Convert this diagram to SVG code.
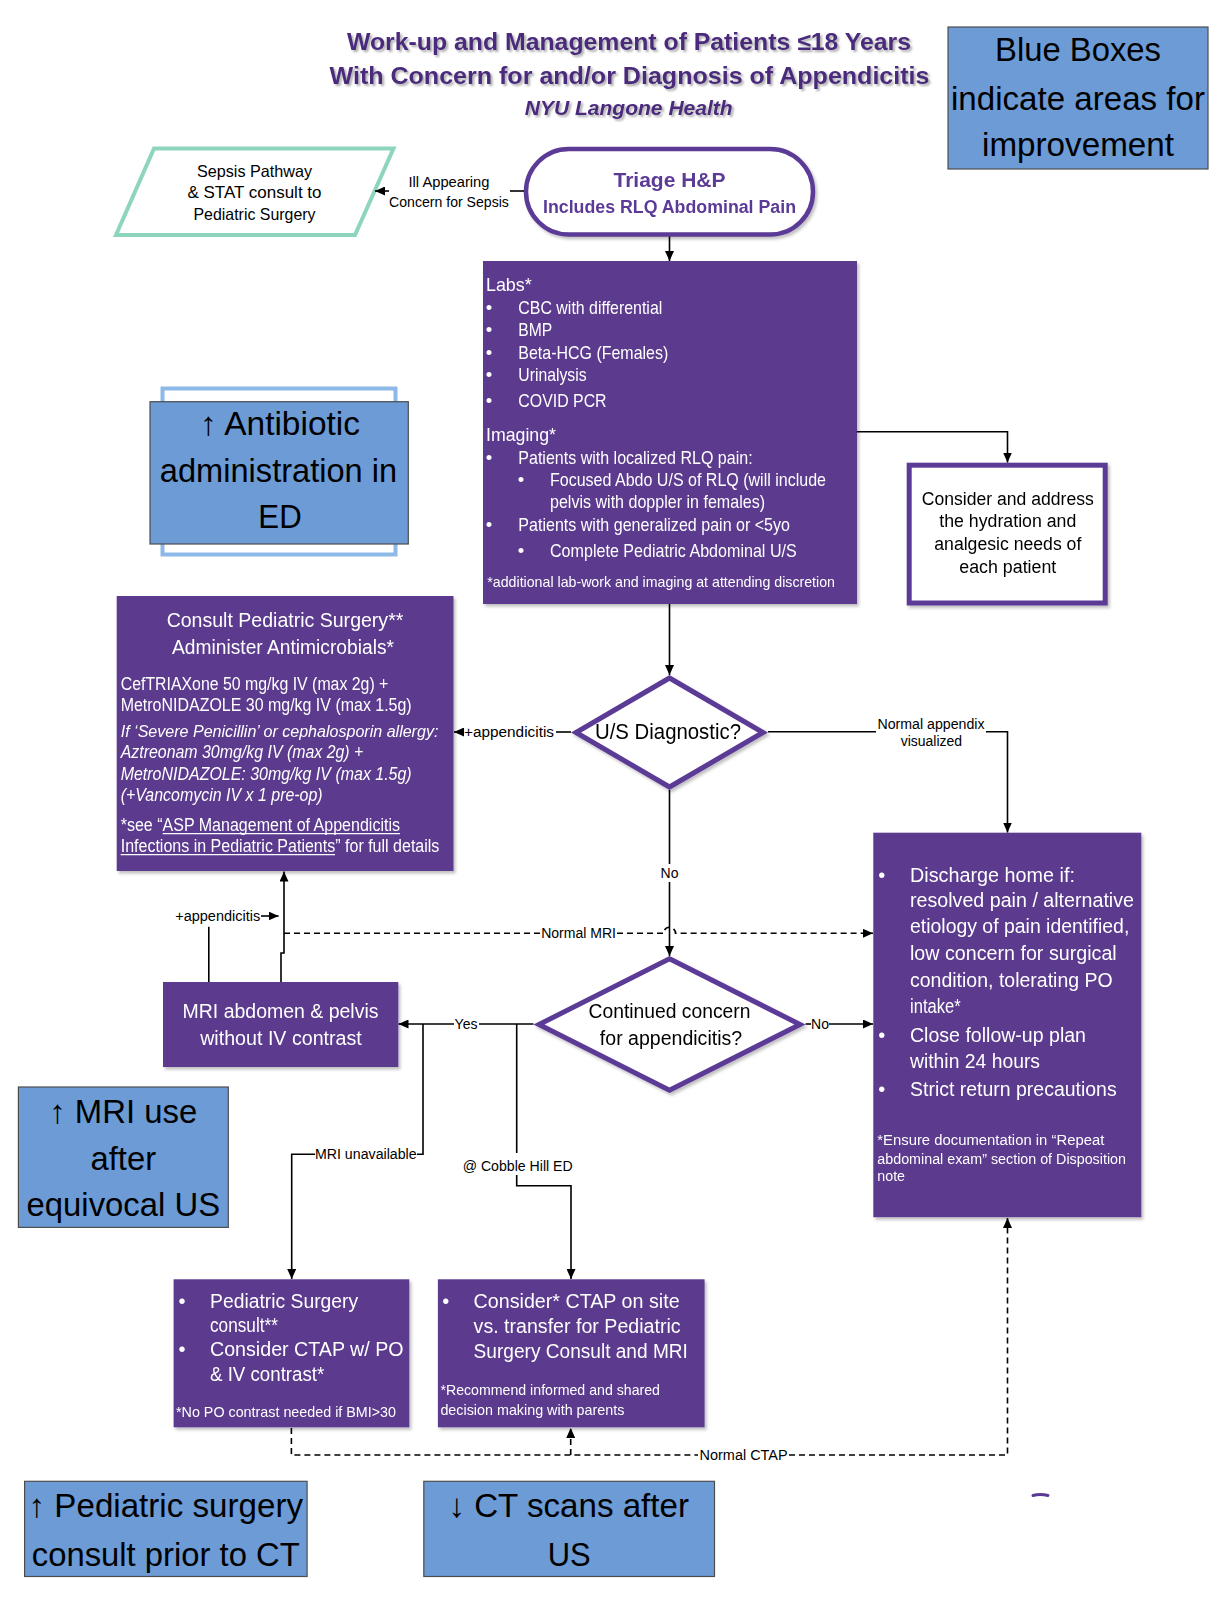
<svg xmlns="http://www.w3.org/2000/svg" width="1210" height="1604" viewBox="0 0 1210 1604">
<defs>
<style>
text{font-family:"Liberation Sans",Arial,Helvetica,sans-serif;}
.ttl{font-weight:bold;fill:#4B2A7E;}
.w{fill:#fff;}
.k{fill:#000;}
.pbox{fill:#5B3A8E;}
.obox{fill:#fff;stroke:#5B3A96;stroke-width:5;}
.blue{fill:#6C9BD6;stroke:#4d4d4d;stroke-width:1.2;}
.bt{font-size:33px;fill:#000;}
.ln{fill:none;stroke:#000;stroke-width:1.6;}
.dl{fill:none;stroke:#000;stroke-width:1.6;stroke-dasharray:6 4;}
.lbl{font-size:14px;fill:#000;}
.it{font-style:italic;}
</style>
<marker id="ah" viewBox="0 0 10 9" refX="10" refY="4.5" markerWidth="10" markerHeight="9" markerUnits="userSpaceOnUse" orient="auto"><path d="M0,0 L10,4.5 L0,9 z" fill="#000"/></marker>
<filter id="sh" x="-5%" y="-5%" width="115%" height="115%"><feDropShadow dx="2" dy="2.5" stdDeviation="1.5" flood-color="#000" flood-opacity="0.25"/></filter>
<filter id="tsh" x="-5%" y="-20%" width="110%" height="150%"><feDropShadow dx="2" dy="2" stdDeviation="1.2" flood-color="#777" flood-opacity="0.6"/></filter>
</defs>
<rect x="0" y="0" width="1210" height="1604" fill="#fff"/>

<g id="title" filter="url(#tsh)">
<text class="ttl" x="629" y="50" font-size="24" text-anchor="middle" textLength="564" lengthAdjust="spacingAndGlyphs">Work-up and Management of Patients ≤18 Years</text>
<text class="ttl" x="629.5" y="84" font-size="24" text-anchor="middle" textLength="600" lengthAdjust="spacingAndGlyphs">With Concern for and/or Diagnosis of Appendicitis</text>
<text class="ttl" x="628.7" y="115" font-size="21" font-style="italic" text-anchor="middle" textLength="208" lengthAdjust="spacingAndGlyphs">NYU Langone Health</text>
</g>

<g id="blue-legend">
<rect class="blue" x="948" y="27" width="260" height="142"/>
<text class="bt" x="1078" y="61.4" font-size="35" text-anchor="middle" textLength="166" lengthAdjust="spacingAndGlyphs">Blue Boxes</text>
<text class="bt" x="1078" y="109.5" font-size="35" text-anchor="middle" textLength="254" lengthAdjust="spacingAndGlyphs">indicate areas for</text>
<text class="bt" x="1078" y="155.6" font-size="35" text-anchor="middle" textLength="192" lengthAdjust="spacingAndGlyphs">improvement</text>
</g>

<g id="sepsis">
<path d="M154,148.5 L393.5,148.5 L355,235 L116,235 Z" fill="#fff" stroke="#8DD5BE" stroke-width="4"/>
<text class="k" x="254.5" y="176.7" font-size="16.5" text-anchor="middle" textLength="115" lengthAdjust="spacingAndGlyphs">Sepsis Pathway</text>
<text class="k" x="254.5" y="198.3" font-size="16.5" text-anchor="middle" textLength="134" lengthAdjust="spacingAndGlyphs">&amp; STAT consult to</text>
<text class="k" x="254.5" y="220" font-size="16.5" text-anchor="middle" textLength="122" lengthAdjust="spacingAndGlyphs">Pediatric Surgery</text>
</g>

<g id="triage" filter="url(#sh)">
<rect x="526" y="149" width="287" height="85.5" rx="42.75" fill="#fff" stroke="#5B3A96" stroke-width="4.5"/>
<text x="669.5" y="186.7" font-size="21" font-weight="bold" fill="#5B3A96" text-anchor="middle" textLength="112" lengthAdjust="spacingAndGlyphs">Triage H&amp;P</text>
<text x="669.5" y="213.3" font-size="17.5" font-weight="bold" fill="#5B3A96" text-anchor="middle" textLength="253" lengthAdjust="spacingAndGlyphs">Includes RLQ Abdominal Pain</text>
</g>

<g id="labs" filter="url(#sh)">
<rect class="pbox" x="483" y="261" width="374" height="343"/>
<g class="w" font-size="18.5">
<text x="486" y="290.7" textLength="45.7" lengthAdjust="spacingAndGlyphs">Labs*</text>
<text x="489" y="314" text-anchor="middle">•</text>
<text x="518.3" y="314" textLength="144" lengthAdjust="spacingAndGlyphs">CBC with differential</text>
<text x="489" y="336" text-anchor="middle">•</text>
<text x="518.3" y="336" textLength="34" lengthAdjust="spacingAndGlyphs">BMP</text>
<text x="489" y="359.3" text-anchor="middle">•</text>
<text x="518.3" y="359.3" textLength="150" lengthAdjust="spacingAndGlyphs">Beta-HCG (Females)</text>
<text x="489" y="380.7" text-anchor="middle">•</text>
<text x="518.3" y="380.7" textLength="68.3" lengthAdjust="spacingAndGlyphs">Urinalysis</text>
<text x="489" y="406.7" text-anchor="middle">•</text>
<text x="518.3" y="406.7" textLength="88.3" lengthAdjust="spacingAndGlyphs">COVID PCR</text>
<text x="486" y="440.7" textLength="70" lengthAdjust="spacingAndGlyphs">Imaging*</text>
<text x="489" y="464" text-anchor="middle">•</text>
<text x="518.3" y="464" textLength="234.3" lengthAdjust="spacingAndGlyphs">Patients with localized RLQ pain:</text>
<text x="521" y="486" text-anchor="middle">•</text>
<text x="550" y="486" textLength="276" lengthAdjust="spacingAndGlyphs">Focused Abdo U/S of RLQ (will include</text>
<text x="550" y="508.3" textLength="215" lengthAdjust="spacingAndGlyphs">pelvis with doppler in females)</text>
<text x="489" y="531" text-anchor="middle">•</text>
<text x="518.3" y="531" textLength="271.7" lengthAdjust="spacingAndGlyphs">Patients with generalized pain or &lt;5yo</text>
<text x="521" y="556.7" text-anchor="middle">•</text>
<text x="550" y="556.7" textLength="246.7" lengthAdjust="spacingAndGlyphs">Complete Pediatric Abdominal U/S</text>
<text x="487.3" y="586.7" font-size="15" textLength="347.7" lengthAdjust="spacingAndGlyphs">*additional lab-work and imaging at attending discretion</text>
</g>
</g>

<g id="hydration" filter="url(#sh)">
<rect class="obox" x="909.2" y="465.2" width="196" height="137.8"/>
<g class="k" font-size="18" text-anchor="middle">
<text x="1007.8" y="505" textLength="172" lengthAdjust="spacingAndGlyphs">Consider and address</text>
<text x="1007.8" y="527.3" textLength="137" lengthAdjust="spacingAndGlyphs">the hydration and</text>
<text x="1007.8" y="550" textLength="147" lengthAdjust="spacingAndGlyphs">analgesic needs of</text>
<text x="1007.8" y="573.3" textLength="97" lengthAdjust="spacingAndGlyphs">each patient</text>
</g>
</g>

<g id="us-diagnostic" filter="url(#sh)">
<path class="obox" d="M669.5,678 L763,732.5 L669.5,787 L576,732.5 Z"/>
<text class="k" x="668" y="739.3" font-size="22" text-anchor="middle" textLength="146" lengthAdjust="spacingAndGlyphs">U/S Diagnostic?</text>
</g>

<g id="consult" filter="url(#sh)">
<rect class="pbox" x="116.7" y="596" width="336.8" height="275"/>
<g class="w">
<text x="285" y="626.7" font-size="19.5" text-anchor="middle" textLength="236.7" lengthAdjust="spacingAndGlyphs">Consult Pediatric Surgery**</text>
<text x="283" y="654" font-size="19.5" text-anchor="middle" textLength="222" lengthAdjust="spacingAndGlyphs">Administer Antimicrobials*</text>
<text x="120.7" y="690" font-size="17.5" textLength="267.7" lengthAdjust="spacingAndGlyphs">CefTRIAXone 50 mg/kg IV (max 2g) +</text>
<text x="120.7" y="710.7" font-size="17.5" textLength="291" lengthAdjust="spacingAndGlyphs">MetroNIDAZOLE 30 mg/kg IV (max 1.5g)</text>
<text class="it" x="120.7" y="736.7" font-size="16" textLength="317.7" lengthAdjust="spacingAndGlyphs">If ‘Severe Penicillin’ or cephalosporin allergy:</text>
<text class="it" x="120.7" y="758.3" font-size="17.5" textLength="242.7" lengthAdjust="spacingAndGlyphs">Aztreonam 30mg/kg IV (max 2g) +</text>
<text class="it" x="120.7" y="780" font-size="17.5" textLength="291" lengthAdjust="spacingAndGlyphs">MetroNIDAZOLE: 30mg/kg IV (max 1.5g)</text>
<text class="it" x="120.7" y="800.7" font-size="17.5" textLength="202" lengthAdjust="spacingAndGlyphs">(+Vancomycin IV x 1 pre-op)</text>
<text x="120.7" y="830.7" font-size="17.5" textLength="279.3" lengthAdjust="spacingAndGlyphs">*see “ASP Management of Appendicitis</text>
<text x="120.7" y="851.7" font-size="17.5" textLength="318.7" lengthAdjust="spacingAndGlyphs">Infections in Pediatric Patients” for full details</text>
</g>
<path d="M162.7,833.6 H400 M120.7,854.6 H335" stroke="#fff" stroke-width="1.2" fill="none"/>
</g>

<g id="continued-concern" filter="url(#sh)">
<path class="obox" d="M669.5,958.8 L800,1024.5 L669.5,1090.2 L539,1024.5 Z"/>
<text class="k" x="669.5" y="1018.3" font-size="19.5" text-anchor="middle" textLength="162" lengthAdjust="spacingAndGlyphs">Continued concern</text>
<text class="k" x="671" y="1045" font-size="19.5" text-anchor="middle" textLength="142.3" lengthAdjust="spacingAndGlyphs">for appendicitis?</text>
</g>

<g id="mri" filter="url(#sh)">
<rect class="pbox" x="163" y="982" width="235.3" height="85"/>
<text class="w" x="280.5" y="1018.3" font-size="19.5" text-anchor="middle" textLength="196" lengthAdjust="spacingAndGlyphs">MRI abdomen &amp; pelvis</text>
<text class="w" x="281" y="1045" font-size="19.5" text-anchor="middle" textLength="161.6" lengthAdjust="spacingAndGlyphs">without IV contrast</text>
</g>

<g id="discharge" filter="url(#sh)">
<rect class="pbox" x="873.3" y="832.7" width="268" height="384.5"/>
<g class="w" font-size="20">
<text x="881.7" y="881.7" text-anchor="middle">•</text>
<text x="910" y="881.7" textLength="165" lengthAdjust="spacingAndGlyphs">Discharge home if:</text>
<text x="910" y="906.7" textLength="224" lengthAdjust="spacingAndGlyphs">resolved pain / alternative</text>
<text x="910" y="932.7" textLength="219.3" lengthAdjust="spacingAndGlyphs">etiology of pain identified,</text>
<text x="910" y="960" textLength="206.7" lengthAdjust="spacingAndGlyphs">low concern for surgical</text>
<text x="910" y="986.7" textLength="202.7" lengthAdjust="spacingAndGlyphs">condition, tolerating PO</text>
<text x="910" y="1013.3" textLength="50.7" lengthAdjust="spacingAndGlyphs">intake*</text>
<text x="881.7" y="1041.7" text-anchor="middle">•</text>
<text x="910" y="1041.7" textLength="176" lengthAdjust="spacingAndGlyphs">Close follow-up plan</text>
<text x="910" y="1068.3" textLength="130" lengthAdjust="spacingAndGlyphs">within 24 hours</text>
<text x="881.7" y="1095.7" text-anchor="middle">•</text>
<text x="910" y="1095.7" textLength="206.7" lengthAdjust="spacingAndGlyphs">Strict return precautions</text>
<text x="877.3" y="1145" font-size="14" textLength="227" lengthAdjust="spacingAndGlyphs">*Ensure documentation in “Repeat</text>
<text x="877.3" y="1164" font-size="14" textLength="248.7" lengthAdjust="spacingAndGlyphs">abdominal exam” section of Disposition</text>
<text x="877.3" y="1180.7" font-size="14" textLength="27.7" lengthAdjust="spacingAndGlyphs">note</text>
</g>
</g>

<g id="ped-surgery-consult" filter="url(#sh)">
<rect class="pbox" x="173.6" y="1279.3" width="235.7" height="148"/>
<g class="w" font-size="20">
<text x="182" y="1308.3" text-anchor="middle">•</text>
<text x="210" y="1308.3" textLength="148.2" lengthAdjust="spacingAndGlyphs">Pediatric Surgery</text>
<text x="210" y="1332" textLength="67.9" lengthAdjust="spacingAndGlyphs">consult**</text>
<text x="182" y="1356" text-anchor="middle">•</text>
<text x="210" y="1356" textLength="193.6" lengthAdjust="spacingAndGlyphs">Consider CTAP w/ PO</text>
<text x="210" y="1381" textLength="114.3" lengthAdjust="spacingAndGlyphs">&amp; IV contrast*</text>
<text x="176" y="1416.7" font-size="14.5" textLength="220" lengthAdjust="spacingAndGlyphs">*No PO contrast needed if BMI&gt;30</text>
</g>
</g>

<g id="ctap-cobble-hill" filter="url(#sh)">
<rect class="pbox" x="437.9" y="1279.3" width="266.7" height="148"/>
<g class="w" font-size="20">
<text x="445.7" y="1308.3" text-anchor="middle">•</text>
<text x="473.6" y="1308.3" textLength="206" lengthAdjust="spacingAndGlyphs">Consider* CTAP on site</text>
<text x="473.6" y="1333.3" textLength="207" lengthAdjust="spacingAndGlyphs">vs. transfer for Pediatric</text>
<text x="473.6" y="1358.3" textLength="214.3" lengthAdjust="spacingAndGlyphs">Surgery Consult and MRI</text>
<text x="440.4" y="1395" font-size="14.5" textLength="219.6" lengthAdjust="spacingAndGlyphs">*Recommend informed and shared</text>
<text x="440.4" y="1415" font-size="14.5" textLength="184" lengthAdjust="spacingAndGlyphs">decision making with parents</text>
</g>
</g>

<g id="blue-antibiotic">
<rect x="162.5" y="388.5" width="233" height="166" fill="#fff" stroke="#8DB9E8" stroke-width="4"/>
<rect class="blue" x="150" y="401.7" width="258.3" height="142.3"/>
<text class="bt" x="280" y="435" font-size="32" text-anchor="middle" textLength="160" lengthAdjust="spacingAndGlyphs">↑ Antibiotic</text>
<text class="bt" x="278.5" y="481.7" font-size="32" text-anchor="middle" textLength="237.3" lengthAdjust="spacingAndGlyphs">administration in</text>
<text class="bt" x="280" y="528.3" font-size="32" text-anchor="middle" textLength="43.4" lengthAdjust="spacingAndGlyphs">ED</text>
</g>

<g id="blue-mri">
<rect class="blue" x="18.4" y="1087" width="209.9" height="140.4"/>
<text class="bt" x="123.3" y="1123" text-anchor="middle" textLength="148" lengthAdjust="spacingAndGlyphs">↑ MRI use</text>
<text class="bt" x="123.3" y="1170" text-anchor="middle" textLength="65.5" lengthAdjust="spacingAndGlyphs">after</text>
<text class="bt" x="123.3" y="1216" text-anchor="middle" textLength="193.5" lengthAdjust="spacingAndGlyphs">equivocal US</text>
</g>

<g id="blue-ped-surgery">
<rect class="blue" x="24.6" y="1481.3" width="282.5" height="95.2"/>
<text class="bt" x="165.8" y="1517" text-anchor="middle" textLength="274.4" lengthAdjust="spacingAndGlyphs">↑ Pediatric surgery</text>
<text class="bt" x="165.8" y="1566" text-anchor="middle" textLength="268" lengthAdjust="spacingAndGlyphs">consult prior to CT</text>
</g>

<g id="blue-ct">
<rect class="blue" x="423.8" y="1481.3" width="290.7" height="95.2"/>
<text class="bt" x="568.7" y="1517" text-anchor="middle" textLength="240.6" lengthAdjust="spacingAndGlyphs">↓ CT scans after</text>
<text class="bt" x="569.2" y="1566" text-anchor="middle" textLength="43" lengthAdjust="spacingAndGlyphs">US</text>
</g>

<g id="connectors">
<path class="ln" d="M524,191 H510"/>
<path class="ln" d="M389,191 H375" marker-end="url(#ah)"/>
<text class="lbl" x="449" y="186.7" text-anchor="middle" textLength="81" lengthAdjust="spacingAndGlyphs">Ill Appearing</text>
<text class="lbl" x="449" y="206.7" text-anchor="middle" textLength="119.8" lengthAdjust="spacingAndGlyphs">Concern for Sepsis</text>

<path class="ln" d="M669.5,236.5 V261" marker-end="url(#ah)"/>
<path class="ln" d="M856.8,431.7 H1007.5 V462.5" marker-end="url(#ah)"/>
<path class="ln" d="M669.5,604 V675" marker-end="url(#ah)"/>

<path class="ln" d="M571,732 H556"/>
<path class="ln" d="M463,732 H454" marker-end="url(#ah)"/>
<text class="lbl" x="509" y="736.5" font-size="15" text-anchor="middle" textLength="90" lengthAdjust="spacingAndGlyphs">+appendicitis</text>

<path class="ln" d="M768,731.7 H876"/>
<path class="ln" d="M986,731.7 H1007.5 V832.5" marker-end="url(#ah)"/>
<text class="lbl" x="931" y="729.3" text-anchor="middle" textLength="107" lengthAdjust="spacingAndGlyphs">Normal appendix</text>
<text class="lbl" x="931.4" y="746" text-anchor="middle" textLength="61.4" lengthAdjust="spacingAndGlyphs">visualized</text>

<path class="ln" d="M669.5,790 V864"/>
<path class="ln" d="M669.5,882 V956" marker-end="url(#ah)"/>
<text class="lbl" x="669.5" y="878" text-anchor="middle">No</text>

<path class="ln" d="M805.6,1024 H811"/>
<path class="ln" d="M829,1024 H873" marker-end="url(#ah)"/>
<text class="lbl" x="820" y="1029" text-anchor="middle">No</text>

<path class="ln" d="M533.5,1024 H479"/>
<path class="ln" d="M454,1024 H398.5" marker-end="url(#ah)"/>
<text class="lbl" x="466" y="1029" text-anchor="middle">Yes</text>

<path class="ln" d="M423,1024 V1154.3 H417"/>
<path class="ln" d="M315,1154.3 H291.7 V1279" marker-end="url(#ah)"/>
<text class="lbl" x="365.8" y="1159" text-anchor="middle" textLength="101.7" lengthAdjust="spacingAndGlyphs">MRI unavailable</text>

<path class="ln" d="M516.7,1024 V1153"/>
<path class="ln" d="M516.7,1175 V1185.7 H571 V1279" marker-end="url(#ah)"/>
<text class="lbl" x="517.7" y="1170.7" text-anchor="middle" textLength="110" lengthAdjust="spacingAndGlyphs">@ Cobble Hill ED</text>

<path class="ln" d="M208.8,982 V926.7"/>
<path class="ln" d="M261,916 H278.6" marker-end="url(#ah)"/>
<text class="lbl" x="217.7" y="920.5" font-size="14.5" text-anchor="middle" textLength="85" lengthAdjust="spacingAndGlyphs">+appendicitis</text>
<path class="ln" d="M281,982 V953 H284 V871.5" marker-end="url(#ah)"/>

<path class="dl" d="M284,933.3 H540"/>
<path class="dl" d="M617,933.3 H663.5 A6,6 0 0 1 675.5,933.3 H873" marker-end="url(#ah)"/>
<text class="lbl" x="578.6" y="938.3" text-anchor="middle" textLength="74.8" lengthAdjust="spacingAndGlyphs">Normal MRI</text>

<path class="dl" d="M291.4,1428 V1455 H698"/>
<path class="dl" d="M789,1455 H1007.5 V1218" marker-end="url(#ah)"/>
<path class="dl" d="M570.7,1455 V1428" marker-end="url(#ah)"/>
<text class="lbl" x="743.6" y="1460" text-anchor="middle" textLength="88" lengthAdjust="spacingAndGlyphs">Normal CTAP</text>
</g>

<path d="M1033,1495.5 Q1040,1493.5 1048,1495.5" fill="none" stroke="#5B3A96" stroke-width="3" stroke-linecap="round"/>
</svg>
